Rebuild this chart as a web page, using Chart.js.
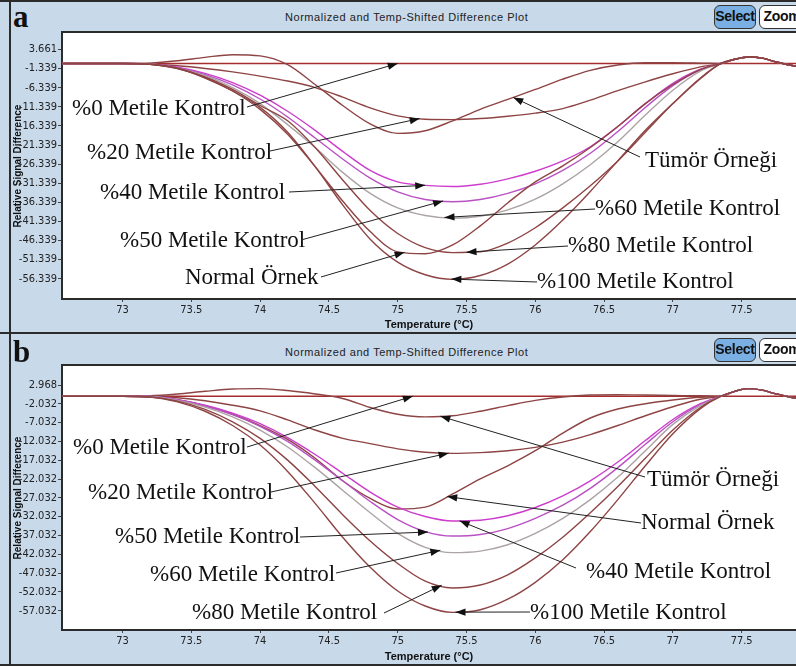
<!DOCTYPE html>
<html>
<head>
<meta charset="utf-8">
<script src="https://cdn.jsdelivr.net/npm/chart.js@4.4.1/dist/chart.umd.min.js"></script>
<style>
  body { margin:0; width:796px; height:670px; background:#fff; position:relative; overflow:hidden; }
  .panel { position:absolute; left:0; width:796px; height:333px; background:#c8d9ea; }
  #pa { top:0; }
  #pb { top:333px; }
  .vline { position:absolute; left:9px; top:0; width:2px; height:100%; background:#2b2b2b; }
  .hline { position:absolute; left:0; width:796px; height:2px; background:#2b2b2b; }
  .tag { position:absolute; left:13px; font:bold 31px "Liberation Serif", "Times New Roman", serif; color:#111; line-height:31px; }
  .title { position:absolute; left:285px; top:11px; font:11px "Liberation Sans", Arial, sans-serif; letter-spacing:0.55px; color:#222; }
  .btn { position:absolute; top:5px; height:24px; box-sizing:border-box; border:1.5px solid #333; border-radius:6px;
         font:bold 14px "Liberation Sans", Arial, sans-serif; line-height:21px; text-align:center; color:#111; letter-spacing:-0.3px; }
  .sel { left:714px; width:42px; background:#79afe2; }
  .zm  { left:759px; width:46px; background:#fff; }
  canvas { position:absolute; left:0; top:0; }
</style>
</head>
<body>
<div class="panel" id="pa">
  <div class="hline" style="top:0"></div>
  <div class="vline"></div>
  <div class="tag" style="top:1px">a</div>
  <div class="title">Normalized and Temp-Shifted Difference Plot</div>
  <div class="btn sel">Select</div>
  <div class="btn zm">Zoom</div>
  <canvas id="ca" width="796" height="333"></canvas>
</div>
<div class="panel" id="pb">
  <div class="hline" style="top:-1px"></div>
  <div class="hline" style="top:331px"></div>
  <div class="vline"></div>
  <div class="tag" style="top:3px">b</div>
  <div class="title" style="top:13px">Normalized and Temp-Shifted Difference Plot</div>
  <div class="btn sel" style="top:5px">Select</div>
  <div class="btn zm" style="top:5px">Zoom</div>
  <canvas id="cb" width="796" height="333"></canvas>
</div>
<script>
// Temperature grid (°C) shared by every curve
const temps = [72.56, 73.0, 73.2, 73.4, 73.6, 73.8, 74.0, 74.2, 74.4, 74.6, 74.8, 75.0, 75.2, 75.4,
               75.6, 75.8, 76.0, 76.2, 76.4, 76.6, 76.8, 77.0, 77.2, 77.35, 77.45, 77.55, 77.65, 77.75, 77.9];

// Axis ticks
const xTickValues = [73, 73.5, 74, 74.5, 75, 75.5, 76, 76.5, 77, 77.5];
const yTicksA = [3.661, -1.339, -6.339, -11.339, -16.339, -21.339, -26.339, -31.339, -36.339, -41.339, -46.339, -51.339, -56.339];
const yTicksB = [2.968, -2.032, -7.032, -12.032, -17.032, -22.032, -27.032, -32.032, -37.032, -42.032, -47.032, -52.032, -57.032];

// Panel a: relative signal difference
const aRef    = [0,0,0,0,0,0,0,0,0,0,0,0,0,0,0,0,0,0,0,0,0,0,0,0,0,0,0,0,0];
const aTumor  = [0,0,0.1,0.7,1.6,2.3,2.0,-0.3,-5.5,-11,-15.8,-18.3,-17.6,-15,-12,-9.4,-6.8,-4.1,-1.8,-0.4,0.2,0.2,0.1,0,1.1,1.7,1.4,0.4,-0.8];
const a20     = [0,0,-0.2,-0.6,-1.3,-2.2,-3.3,-4.6,-6.3,-8.8,-11.6,-13.7,-14.6,-14.7,-14.4,-13.8,-13.0,-11.8,-9.6,-7.1,-4.8,-2.7,-0.9,0,1.1,1.7,1.4,0.4,-0.8];
const a40     = [0,0,-0.1,-1.0,-2.6,-5.0,-8.3,-12.5,-17.5,-23,-28,-31,-31.9,-32.2,-31.6,-30.2,-28.2,-25.5,-21.8,-16.5,-10.5,-5.2,-1.5,0,1.1,1.7,1.4,0.4,-0.8];
const a50     = [0,0,-0.1,-1.1,-2.9,-5.6,-9.3,-14,-19.5,-25,-30,-33.6,-35.6,-36.2,-35.6,-34,-31.5,-28,-23.5,-17.8,-11.5,-5.8,-1.7,0,1.1,1.7,1.4,0.4,-0.8];
const a60     = [0,0,-0.1,-1.2,-3.2,-6.3,-10.5,-16,-22,-28.5,-34,-37.8,-39.8,-40.5,-40,-38.3,-35.5,-31.5,-26.5,-20.5,-13.5,-7,-2,0,1.1,1.7,1.4,0.4,-0.8];
const a80     = [0,0,-0.2,-1.3,-3.5,-6.8,-11,-15,-22,-30.5,-38.5,-44.5,-48.2,-49.5,-49.3,-47,-43,-37.8,-32,-25.5,-18,-10.5,-3.8,0,1.1,1.7,1.4,0.4,-0.8];
const aNormal = [0,0,-0.2,-1.3,-3.7,-7.2,-12,-18.5,-27,-36,-44,-49.3,-49.8,-47.5,-42.5,-36.5,-31,-26.8,-22,-16.5,-10.5,-5.5,-1.6,0,1.1,1.7,1.4,0.4,-0.8];
const a100    = [0,0,-0.2,-1.2,-3.8,-7.2,-11.5,-18,-27,-37,-46,-52,-55.3,-56.5,-55.5,-52.5,-47.5,-41,-33.5,-25.5,-17.5,-10.5,-4,0,1.1,1.7,1.4,0.4,-0.8];

// Panel b: relative signal difference
const bRef    = [0,0,0,0,0,0,0,0,0,0,0,0,0,0,0,0,0,0,0,0,0,0,0,0,0,0,0,0,0];
const bTumor  = [0,0,0.1,0.6,1.3,1.9,2.0,1.5,0.6,-0.6,-3.0,-4.8,-5.5,-5.2,-4.0,-2.5,-1.1,-0.2,0.3,0.4,0.3,0.2,0.1,0,1.3,2.0,1.6,0.6,-0.6];
const b20     = [0,0,-0.1,-0.4,-1.2,-2.4,-3.9,-6.3,-9,-11.2,-12.6,-14,-14.9,-15.2,-15.0,-14.5,-13.6,-12.2,-10.2,-7.8,-5.2,-2.8,-0.8,0,1.3,2.0,1.6,0.6,-0.6];
const bNormal = [0,0,-0.1,-0.9,-2.5,-4.8,-7.8,-11.5,-16.5,-22.5,-27.2,-30,-29.5,-26,-22,-18.5,-14.5,-9.8,-5.8,-3.4,-2,-1,-0.3,0,1.3,2.0,1.6,0.6,-0.6];
const b40     = [0,0,-0.1,-0.9,-2.4,-4.5,-7.3,-11,-15.5,-20.5,-25.5,-29.5,-32,-33.2,-33,-31.8,-29.6,-26.5,-22.5,-17.5,-11.8,-6.2,-2,0,1.3,2.0,1.6,0.6,-0.6];
const b50     = [0,0,-0.1,-1.0,-2.6,-4.9,-8,-12,-17,-22.5,-28,-32.8,-36,-37.2,-36.8,-35.2,-32.5,-29,-24.5,-19,-12.8,-6.8,-2.2,0,1.3,2.0,1.6,0.6,-0.6];
const b60     = [0,0,-0.1,-1.1,-2.9,-5.5,-9,-13.5,-19,-25,-31,-36.5,-40.2,-41.6,-41.2,-39.5,-36.5,-32.5,-27.5,-21.5,-14.5,-7.5,-2.5,0,1.3,2.0,1.6,0.6,-0.6];
const b80     = [0,0,-0.2,-1.3,-3.5,-6.8,-11.2,-17,-24,-31.5,-38.5,-44.5,-49.2,-51,-50.2,-47.5,-43,-37.5,-31,-24,-16.5,-9,-3,0,1.3,2.0,1.6,0.6,-0.6];
const b100    = [0,0,-0.2,-1.5,-4,-7.8,-13,-20,-28.5,-37.5,-45.5,-51.8,-55.8,-57.5,-56.8,-54,-49.5,-43.5,-36,-27.5,-18.5,-10,-3.3,0,1.3,2.0,1.6,0.6,-0.6];

const BROWN = 'rgb(142,68,68)';
const REDLINE = 'rgb(165,45,45)';
const PINK1 = 'rgb(205,60,205)';
const PINK2 = 'rgb(185,80,195)';
const GREY = 'rgb(172,164,164)';

function pts(values) { return temps.map((t, i) => ({ x: t, y: values[i] })); }
function series(values, color) {
  return { data: pts(values), borderColor: color, borderWidth: 1.4, pointRadius: 0,
           cubicInterpolationMode: 'monotone', fill: false };
}
function valueAt(values, t) {
  for (let i = 0; i < temps.length - 1; i++) {
    if (t >= temps[i] && t <= temps[i + 1]) {
      const f = (t - temps[i]) / (temps[i + 1] - temps[i]);
      return values[i] + f * (values[i + 1] - values[i]);
    }
  }
  return 0;
}

// White plot area with its top frame line
const plotFrame = {
  id: 'plotFrame',
  beforeDraw(chart) {
    const { ctx, chartArea: a } = chart;
    ctx.save();
    ctx.fillStyle = '#fff';
    ctx.fillRect(a.left, a.top, a.right - a.left, a.bottom - a.top);
    ctx.fillStyle = '#2b2b2b';
    ctx.fillRect(a.left - 1, a.top - 2, a.right - a.left + 1, 2);
    ctx.restore();
  }
};

// Text callouts with arrows pointing at a curve
function callouts(items) {
  return {
    id: 'callouts',
    afterDatasetsDraw(chart) {
      const { ctx, scales: { x, y } } = chart;
      ctx.save();
      ctx.font = '23px "Liberation Serif", "Times New Roman", serif';
      ctx.textBaseline = 'middle';
      ctx.fillStyle = '#111';
      ctx.strokeStyle = '#222';
      ctx.lineWidth = 1;
      for (const c of items) {
        ctx.fillText(c.text, c.tx, c.ty);
        const px = x.getPixelForValue(c.t);
        const py = y.getPixelForValue(valueAt(c.s, c.t));
        ctx.beginPath(); ctx.moveTo(c.lx, c.ly); ctx.lineTo(px, py); ctx.stroke();
        const ang = Math.atan2(py - c.ly, px - c.lx);
        const L = 10, W = 3.6;
        const bx = px - L * Math.cos(ang), by = py - L * Math.sin(ang);
        ctx.beginPath();
        ctx.moveTo(px, py);
        ctx.lineTo(bx + W * Math.sin(ang), by - W * Math.cos(ang));
        ctx.lineTo(bx - W * Math.sin(ang), by + W * Math.cos(ang));
        ctx.closePath();
        ctx.fillStyle = '#111';
        ctx.fill();
      }
      ctx.restore();
    }
  };
}

const tickFont = { family: '"Liberation Sans Narrow", "Arial Narrow", "DejaVu Sans Condensed", "Liberation Sans", sans-serif', size: 11 };

function makeChart(canvasId, datasets, yTicks, yMin, yMax, xAxisHeight, xTitlePad, items) {
  return new Chart(document.getElementById(canvasId), {
    type: 'line',
    data: { datasets },
    options: {
      responsive: false, animation: false, parsing: true,
      layout: { padding: { top: 33, left: 0, right: 0, bottom: 0 } },
      plugins: { legend: { display: false }, tooltip: { enabled: false } },
      scales: {
        x: {
          type: 'linear', min: 72.56, max: 77.895,
          afterBuildTicks: s => { s.ticks = xTickValues.map(v => ({ value: v })); },
          afterFit: s => { s.height = xAxisHeight; },
          ticks: { autoSkip: false, maxRotation: 0, padding: 2, color: '#222', font: tickFont,
                   callback: v => String(v) },
          grid: { drawOnChartArea: false, drawTicks: true, tickLength: 3, tickColor: '#444' },
          border: { display: true, color: '#2b2b2b', width: 2 },
          title: { display: true, text: 'Temperature (°C)', color: '#111',
                   font: { family: '"Liberation Sans", Arial, sans-serif', size: 11, weight: 'bold' },
                   padding: { top: 0, bottom: xTitlePad } }
        },
        y: {
          type: 'linear', min: yMin, max: yMax,
          afterBuildTicks: s => { s.ticks = yTicks.map(v => ({ value: v })); },
          afterFit: s => { s.width = 62; },
          ticks: { autoSkip: false, padding: 1, color: '#222', font: tickFont,
                   callback: v => v.toFixed(3) },
          grid: { drawOnChartArea: false, drawTicks: true, tickLength: 4, tickColor: '#444' },
          border: { display: true, color: '#2b2b2b', width: 2 },
          title: { display: true, text: 'Relative Signal Difference', color: '#111',
                   font: { family: '"Liberation Sans", Arial, sans-serif', size: 10, weight: 'bold' },
                   padding: { top: 12, bottom: 0 } }
        }
      }
    },
    plugins: [plotFrame, callouts(items)]
  });
}

makeChart('ca', [
  series(a100, BROWN), series(aNormal, BROWN), series(a80, BROWN), series(a60, GREY),
  series(a50, PINK2), series(a40, PINK1), series(a20, BROWN), series(aTumor, BROWN), series(aRef, REDLINE)
], yTicksA, -61.65, 7.98, 34, 1.5, [
  { text: '%0 Metile Kontrol',   tx: 72,  ty: 109, lx: 247, ly: 107, s: aRef,    t: 75.0 },
  { text: '%20 Metile Kontrol',  tx: 87,  ty: 153, lx: 270, ly: 151, s: a20,     t: 75.16 },
  { text: '%40 Metile Kontrol',  tx: 100, ty: 193, lx: 289, ly: 192, s: a40,     t: 75.2 },
  { text: '%50 Metile Kontrol',  tx: 120, ty: 241, lx: 301, ly: 240, s: a50,     t: 75.33 },
  { text: 'Normal Örnek',        tx: 185, ty: 278, lx: 321, ly: 277, s: aNormal, t: 75.05 },
  { text: 'Tümör Örneği',        tx: 645, ty: 161, lx: 640, ly: 157, s: aTumor,  t: 75.84 },
  { text: '%60 Metile Kontrol',  tx: 595, ty: 209, lx: 595, ly: 209, s: a60,     t: 75.34 },
  { text: '%80 Metile Kontrol',  tx: 568, ty: 246, lx: 568, ly: 246, s: a80,     t: 75.5 },
  { text: '%100 Metile Kontrol', tx: 537, ty: 282, lx: 537, ly: 282, s: a100,    t: 75.39 }
]);

makeChart('cb', [
  series(b100, BROWN), series(b80, BROWN), series(b60, GREY), series(b50, PINK2),
  series(b40, PINK1), series(bNormal, BROWN), series(b20, BROWN), series(bTumor, BROWN), series(bRef, REDLINE)
], yTicksB, -62.18, 8.03, 36, 2.5, [
  { text: '%0 Metile Kontrol',   tx: 73,  ty: 115, lx: 247, ly: 114, s: bRef,    t: 75.11 },
  { text: '%20 Metile Kontrol',  tx: 88,  ty: 160, lx: 271, ly: 159, s: b20,     t: 75.37 },
  { text: '%50 Metile Kontrol',  tx: 115, ty: 204, lx: 300, ly: 204, s: b50,     t: 75.22 },
  { text: '%60 Metile Kontrol',  tx: 150, ty: 242, lx: 336, ly: 240, s: b60,     t: 75.31 },
  { text: '%80 Metile Kontrol',  tx: 192, ty: 280, lx: 384, ly: 280, s: b80,     t: 75.32 },
  { text: 'Tümör Örneği',        tx: 647, ty: 147, lx: 645, ly: 144, s: bTumor,  t: 75.31 },
  { text: 'Normal Örnek',        tx: 641, ty: 190, lx: 641, ly: 190, s: bNormal, t: 75.36 },
  { text: '%40 Metile Kontrol',  tx: 586, ty: 239, lx: 576, ly: 235, s: b40,     t: 75.45 },
  { text: '%100 Metile Kontrol', tx: 530, ty: 280, lx: 530, ly: 279, s: b100,    t: 75.42 }
]);
</script>
</body>
</html>
